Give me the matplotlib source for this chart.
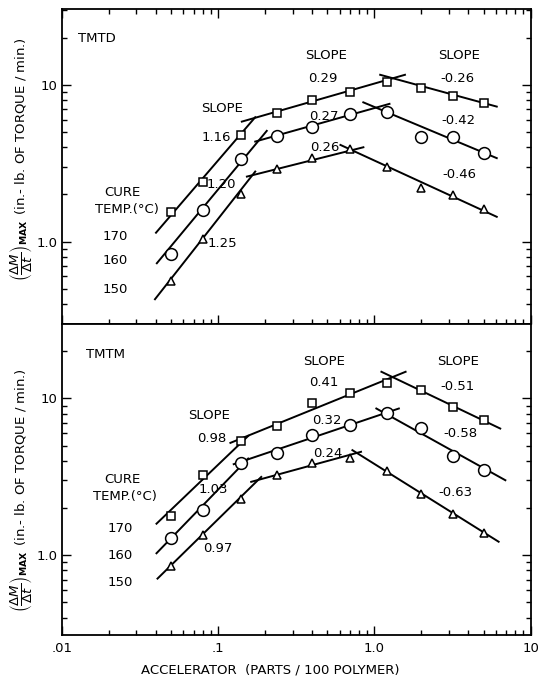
import numpy as np
import matplotlib
matplotlib.use("Agg")
import matplotlib.pyplot as plt
from matplotlib.ticker import FixedLocator, FixedFormatter, LogLocator, NullFormatter

# accelerator level (parts / 100 polymer), same for every series
accel = [0.05, 0.08, 0.14, 0.24, 0.4, 0.7, 1.2, 2.0, 3.2, 5.0]

# TMTD, max cure rate at 170, 160, 150 C
tmtd_170 = [1.54, 2.41, 4.80, 6.65, 8.02, 9.06, 10.5, 9.53, 8.55, 7.64]
tmtd_160 = [0.84, 1.58, 3.36, 4.73, 5.37, 6.50, 6.70, 4.68, 4.68, 3.66]
tmtd_150 = [0.56, 1.04, 2.02, 2.90, 3.41, 3.89, 3.01, 2.19, 1.99, 1.62]

# TMTM
tmtm_170 = [1.78, 3.24, 5.34, 6.65, 9.38, 10.8, 12.6, 11.4, 8.77, 7.27]
tmtm_160 = [1.29, 1.94, 3.88, 4.46, 5.89, 6.76, 8.09, 6.49, 4.30, 3.52]
tmtm_150 = [0.86, 1.34, 2.30, 3.24, 3.85, 4.20, 3.45, 2.45, 1.83, 1.39]

# fitted straight segments (x0, x1, y0, y1)
tmtd_fit_170 = [(0.0401, 0.173, 1.14, 6.22), (0.142, 1.57, 5.83, 11.6), (1.09, 6.07, 11.6, 7.27)]
tmtd_fit_160 = [(0.0406, 0.205, 0.728, 5.09), (0.173, 1.25, 4.35, 7.57), (0.85, 6.07, 7.74, 3.41)]
tmtd_fit_150 = [(0.0395, 0.173, 0.429, 2.80), (0.153, 0.851, 2.60, 4.0), (0.607, 6.07, 4.14, 1.44)]
tmtm_fit_170 = [(0.0404, 0.156, 1.59, 5.77), (0.12, 1.585, 5.21, 14.8), (1.11, 6.39, 14.8, 6.43)]
tmtm_fit_160 = [(0.0404, 0.156, 1.03, 4.14), (0.126, 1.435, 3.81, 8.63), (1.03, 6.89, 8.63, 3.01)]
tmtm_fit_150 = [(0.041, 0.189, 0.71, 3.16), (0.163, 0.822, 2.94, 4.57), (0.724, 6.24, 4.68, 1.22)]

# slope labels (steep, middle, falling) per temperature
tmtd_slopes = {"170": ["1.16", "0.29", "-0.26"], "160": ["1.20", "0.27", "-0.42"], "150": ["1.25", "0.26", "-0.46"]}
tmtm_slopes = {"170": ["0.98", "0.41", "-0.51"], "160": ["1.03", "0.32", "-0.58"], "150": ["0.97", "0.24", "-0.63"]}

temps = ["170", "160", "150"]
x_ticks = [0.01, 0.1, 1.0, 10]
x_ticklabels = [".01", ".1", "1.0", "10"]
y_ticks = [1.0, 10]
y_ticklabels = ["1.0", "10"]

plt.rcParams['font.family'] = ['DejaVu Sans']
fs = 9.5

fig = plt.figure(figsize=(5.39, 6.86), dpi=100)
ax_top = fig.add_axes([0.1145, 0.5273, 0.870, 0.4596])
ax_bot = fig.add_axes([0.1145, 0.0743, 0.870, 0.4529])

markers = {"170": ('s', 5.5), "160": ('o', 8.5), "150": ('^', 6.0)}


def draw_panel(ax, ys, fits):
    for t in temps:
        for x0, x1, y0, y1 in fits[t]:
            ax.plot([x0, x1], [y0, y1], color='black', lw=1.4, zorder=2)
        m, ms = markers[t]
        ax.plot(accel, ys[t], linestyle='none', marker=m, ms=ms, mfc='white',
                mec='black', mew=1.1, zorder=3)
    ax.set_xscale('log')
    ax.set_yscale('log')
    ax.set_xlim(0.01, 10)
    ax.xaxis.set_major_locator(FixedLocator(x_ticks))
    ax.xaxis.set_major_formatter(FixedFormatter(x_ticklabels))
    ax.xaxis.set_minor_locator(LogLocator(base=10, subs=np.arange(2, 10)))
    ax.xaxis.set_minor_formatter(NullFormatter())
    ax.yaxis.set_major_locator(FixedLocator(y_ticks))
    ax.yaxis.set_major_formatter(FixedFormatter(y_ticklabels))
    ax.yaxis.set_minor_locator(LogLocator(base=10, subs=np.arange(2, 10)))
    ax.yaxis.set_minor_formatter(NullFormatter())
    ax.tick_params(which='major', direction='in', length=6.5, width=1.0, labelsize=fs, pad=3)
    ax.tick_params(which='minor', direction='in', length=3.6, width=1.0)
    for sp in ax.spines.values():
        sp.set_linewidth(1.3)


draw_panel(ax_top, {"170": tmtd_170, "160": tmtd_160, "150": tmtd_150},
           {"170": tmtd_fit_170, "160": tmtd_fit_160, "150": tmtd_fit_150})
draw_panel(ax_bot, {"170": tmtm_170, "160": tmtm_160, "150": tmtm_150},
           {"170": tmtm_fit_170, "160": tmtm_fit_160, "150": tmtm_fit_150})

ax_top.set_ylim(0.297, 30.5)
ax_bot.set_ylim(0.31, 29.7)
ax_top.tick_params(which='both', top=True, right=True, labelbottom=False)
ax_bot.tick_params(which='both', top=False, right=True)
ax_bot.tick_params(axis='x', pad=5)


def txt(ax, x, y, s, ha='center'):
    ax.text(x, y, s, transform=ax.transAxes, ha=ha, va='center', fontsize=fs)


# top panel labels
txt(ax_top, 0.035, 0.905, "TMTD", ha='left')
txt(ax_top, 0.564, 0.854, "SLOPE")
txt(ax_top, 0.847, 0.854, "SLOPE")
txt(ax_top, 0.342, 0.683, "SLOPE")
txt(ax_top, 0.557, 0.781, tmtd_slopes["170"][1])
txt(ax_top, 0.843, 0.781, tmtd_slopes["170"][2])
txt(ax_top, 0.330, 0.593, tmtd_slopes["170"][0])
txt(ax_top, 0.560, 0.659, tmtd_slopes["160"][1])
txt(ax_top, 0.845, 0.646, tmtd_slopes["160"][2])
txt(ax_top, 0.341, 0.442, tmtd_slopes["160"][0])
txt(ax_top, 0.560, 0.562, tmtd_slopes["150"][1])
txt(ax_top, 0.847, 0.474, tmtd_slopes["150"][2])
txt(ax_top, 0.342, 0.257, tmtd_slopes["150"][0])
txt(ax_top, 0.129, 0.417, "CURE")
txt(ax_top, 0.140, 0.363, "TEMP.(°C)")
for t, fy in zip(temps, [0.278, 0.201, 0.109]):
    txt(ax_top, 0.114, fy, t)

# bottom panel labels
txt(ax_bot, 0.052, 0.904, "TMTM", ha='left')
txt(ax_bot, 0.559, 0.880, "SLOPE")
txt(ax_bot, 0.845, 0.880, "SLOPE")
txt(ax_bot, 0.314, 0.705, "SLOPE")
txt(ax_bot, 0.559, 0.812, tmtm_slopes["170"][1])
txt(ax_bot, 0.845, 0.799, tmtm_slopes["170"][2])
txt(ax_bot, 0.320, 0.631, tmtm_slopes["170"][0])
txt(ax_bot, 0.565, 0.692, tmtm_slopes["160"][1])
txt(ax_bot, 0.851, 0.649, tmtm_slopes["160"][2])
txt(ax_bot, 0.324, 0.467, tmtm_slopes["160"][0])
txt(ax_bot, 0.568, 0.585, tmtm_slopes["150"][1])
txt(ax_bot, 0.840, 0.458, tmtm_slopes["150"][2])
txt(ax_bot, 0.332, 0.279, tmtm_slopes["150"][0])
txt(ax_bot, 0.129, 0.499, "CURE")
txt(ax_bot, 0.134, 0.447, "TEMP.(°C)")
for t, fy in zip(temps, [0.343, 0.257, 0.168]):
    txt(ax_bot, 0.125, fy, t)

# axis titles
ylab = r"$\left(\dfrac{\Delta M}{\Delta t}\right)_{\mathbf{MAX}}\,$ (in.- lb. OF TORQUE / min.)"
fig.text(0.040, 0.768, ylab, rotation=90, ha='center', va='center', fontsize=9.5)
fig.text(0.040, 0.286, ylab, rotation=90, ha='center', va='center', fontsize=9.5)
fig.text(0.501, 0.023, "ACCELERATOR  (PARTS / 100 POLYMER)", ha='center', va='center', fontsize=fs)

fig.savefig("out.png", dpi=100)
